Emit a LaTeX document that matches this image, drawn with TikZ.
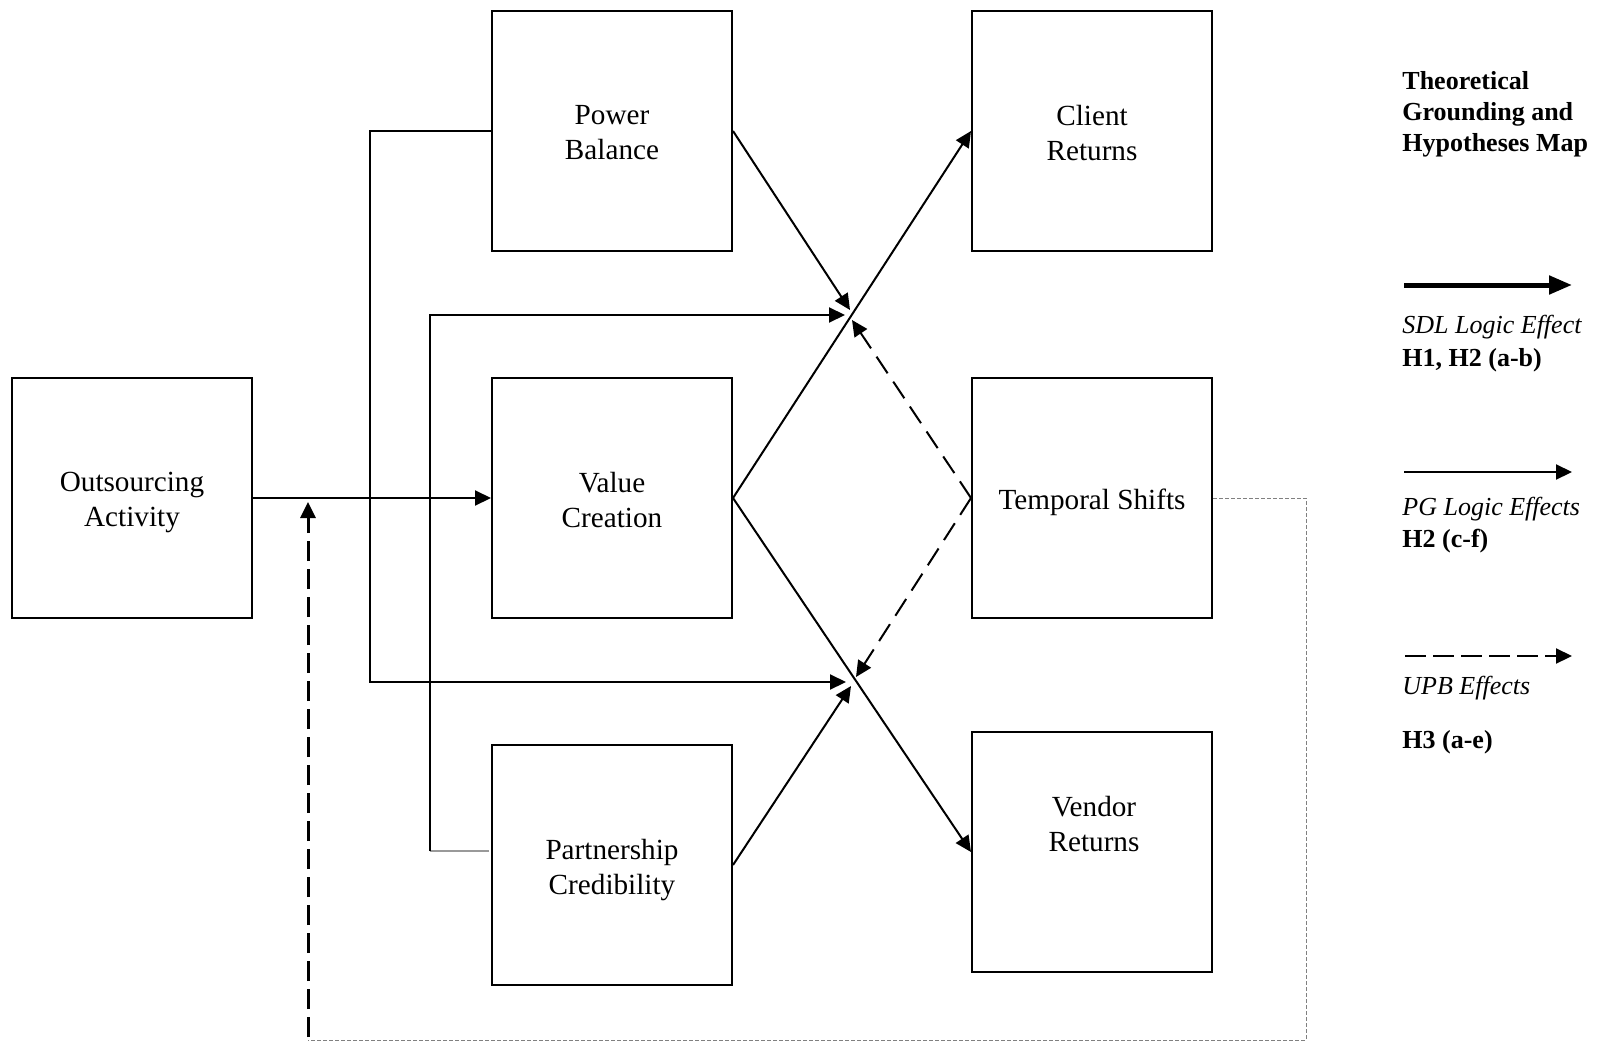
\documentclass[tikz,border=0pt]{standalone}
\usepackage{fontspec}
\setmainfont{Liberation Serif}
\usetikzlibrary{arrows.meta}
\begin{document}
\begin{tikzpicture}[x=0.5pt,y=-0.5pt,
  box/.style={draw,line width=1pt,minimum width=120pt,minimum height=120pt,inner sep=0pt},
  boxtext/.style={inner sep=0pt,align=center,font=\fontsize{14.6pt}{17.5pt}\selectfont},
  tip/.style={-{Triangle[length=8pt,width=7.5pt]}},
  conn/.style={line width=1pt,tip},
  upb/.style={line width=1pt,dash pattern=on 10pt off 5pt,tip},
  upbv/.style={line width=1.5pt,dash pattern=on 10pt off 4pt,tip},
  dotted grey/.style={line width=0.5pt,draw=gray,dash pattern=on 2pt off 1pt},
  legtxt/.style={anchor=base west,inner sep=0pt,font=\fontsize{13pt}{15.5pt}\selectfont},
]
\useasboundingbox (0,0) rectangle (1598,1043);

% boxes
\node[box,label={[boxtext,yshift=-2pt]center:Outsourcing\\Activity}] (oa) at (132,498) {};
\node[box,label={[boxtext,yshift=-1pt]center:Power\\Balance}] (pb) at (612,131) {};
\node[box,label={[boxtext,yshift=-0.8pt]center:Value\\Creation}] (vc) at (612,498) {};
\node[box,label={[boxtext,yshift=-2.7pt]center:Partnership\\Credibility}] (pc) at (612,865) {};
\node[box,label={[boxtext,yshift=-1pt]center:Client\\Returns}] (cr) at (1092,131) {};
\node[box,label={[boxtext,yshift=-2pt]center:Temporal Shifts}] (ts) at (1092,498) {};
\node[box] (vr) at (1092,852) {};
\node[boxtext] (vrt) at (1094,824) {Vendor\\Returns};

% junction coordinates
\coordinate (pbtip) at (850,310);
\coordinate (h1tip) at (845,315);
\coordinate (d1tip) at (852,320);
\coordinate (h2tip) at (846,682);
\coordinate (pctip) at (851,686);
\coordinate (d2tip) at (856,677);
\coordinate (l1top) at (370,131);
\coordinate (l1bot) at (370,682);
\coordinate (l2top) at (430,315);
\coordinate (l2bot) at (430,851);
\coordinate (pcin) at (489,851);
\coordinate (dr1) at (1306,498);
\coordinate (dr2) at (1306,1040);
\coordinate (dl) at (308,1040);
\coordinate (upbot) at (308,1037);
\coordinate (uptip) at (308,502);

% main flow
\draw[conn] (oa.east) -- (vc.west);
\draw[conn] (pb.west) -- (l1top) -- (l1bot) -- (h2tip);
\draw[line width=0.6pt,draw=gray!80] (pcin) -- (l2bot);
\draw[conn] (l2bot) -- (l2top) -- (h1tip);
\draw[conn] (pb.east) -- (pbtip);
\draw[conn] (vc.east) -- (cr.west);
\draw[conn] (vc.east) -- (vr.west);
\draw[conn] (pc.east) -- (pctip);
\draw[upb] (ts.west) -- (d1tip);
\draw[upb] (ts.west) -- (d2tip);
\draw[dotted grey] (ts.east) -- (dr1) -- (dr2) -- (dl);
\draw[upbv] (upbot) -- (uptip);

% legend
\node[legtxt,font=\fontsize{13pt}{15.5pt}\selectfont\bfseries] (t1) at (1402,90) {Theoretical};
\node[legtxt,font=\fontsize{13pt}{15.5pt}\selectfont\bfseries] (t2) at (1402,121) {Grounding and};
\node[legtxt,font=\fontsize{13pt}{15.5pt}\selectfont\bfseries] (t3) at (1402,152) {Hypotheses Map};

\coordinate (a1s) at (1404,285);
\coordinate (a1e) at (1572,285);
\draw[line width=2.5pt,-{Triangle[length=11.5pt,width=9pt]}] (a1s) -- (a1e);
\node[legtxt,font=\fontsize{13pt}{15.5pt}\selectfont\itshape] (s1) at (1402,333) {SDL Logic Effect};
\node[legtxt,font=\fontsize{13pt}{15.5pt}\selectfont\bfseries] (s2) at (1402,366) {H1, H2 (a-b)};

\coordinate (a2s) at (1404,472);
\coordinate (a2e) at (1572,472);
\draw[conn] (a2s) -- (a2e);
\node[legtxt,font=\fontsize{13pt}{15.5pt}\selectfont\itshape] (p1) at (1402,515) {PG Logic Effects};
\node[legtxt,font=\fontsize{13pt}{15.5pt}\selectfont\bfseries] (p2) at (1402,547) {H2 (c-f)};

\coordinate (a3s) at (1405,656);
\coordinate (a3e) at (1572,656);
\draw[line width=1pt,dash pattern=on 10.5pt off 3.5pt,tip] (a3s) -- (a3e);
\node[legtxt,font=\fontsize{13pt}{15.5pt}\selectfont\itshape] (u1) at (1402,694) {UPB Effects};
\node[legtxt,font=\fontsize{13pt}{15.5pt}\selectfont\bfseries] (u2) at (1402,748) {H3 (a-e)};
\end{tikzpicture}
\end{document}
